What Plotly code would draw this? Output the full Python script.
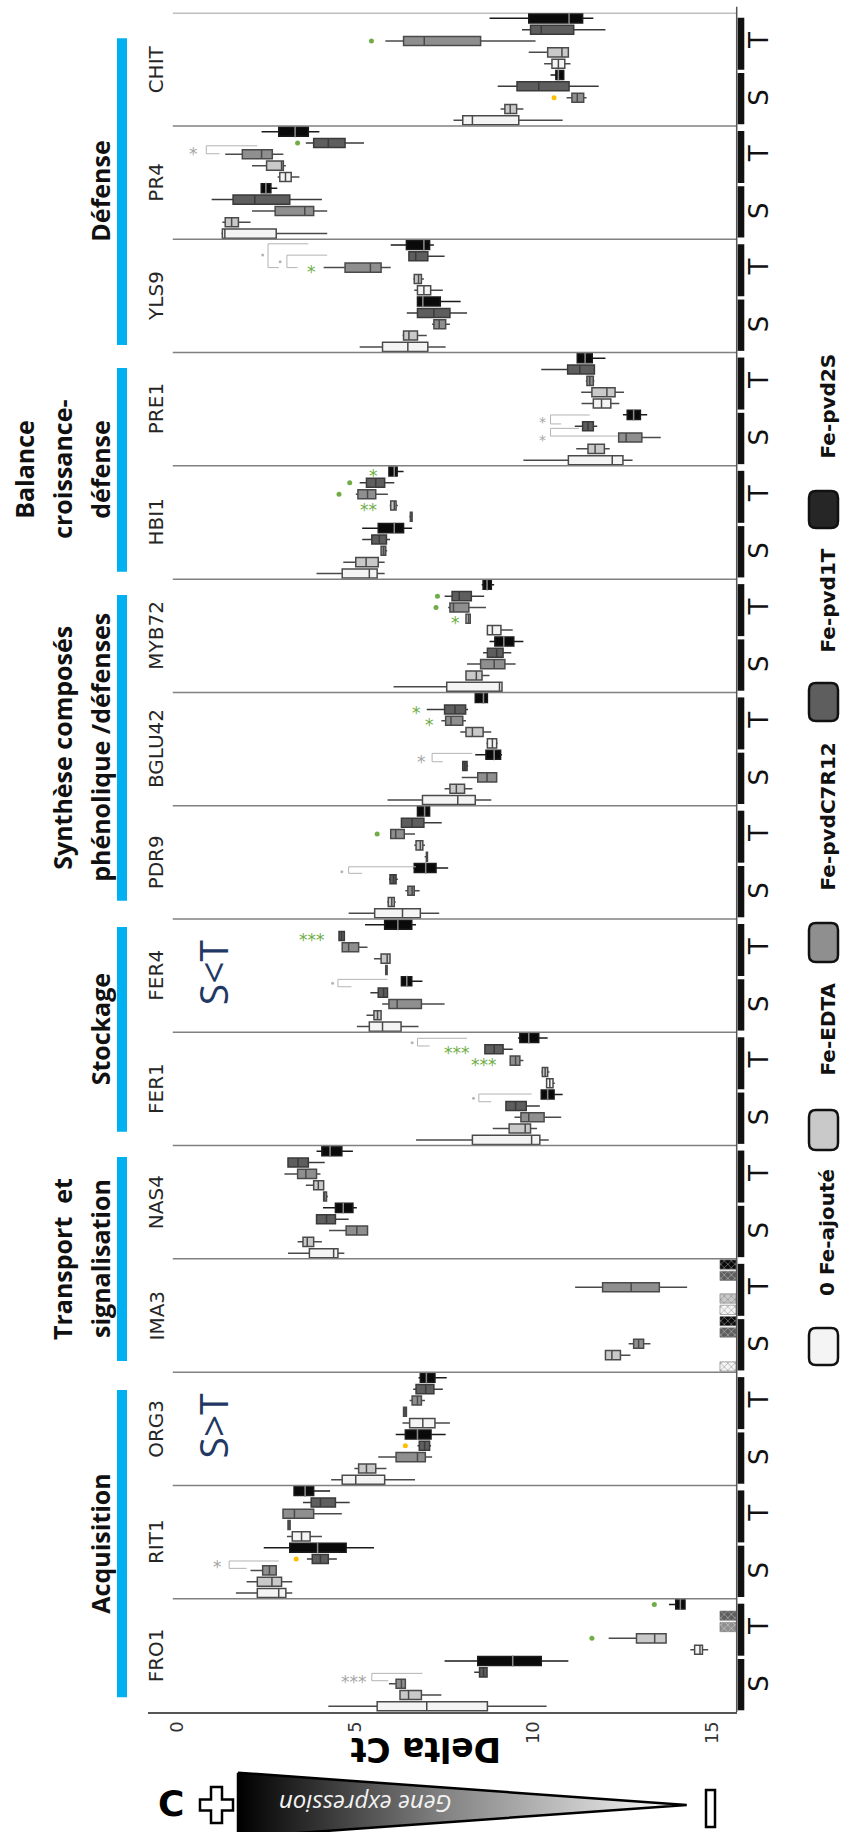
import plotly.graph_objects as go

W, H = 842, 1832

# ---------------- data ----------------
genes = ["FRO1", "RIT1", "ORG3", "IMA3", "NAS4", "FER1", "FER4", "PDR9",
         "BGLU42", "MYB72", "HBI1", "PRE1", "YLS9", "PR4", "CHIT"]
treatments = ["0 Fe-ajouté", "Fe-EDTA", "Fe-pvdC7R12", "Fe-pvd1T", "Fe-pvd2S"]
conditions = ["S", "T"]

# each gene: 10 boxes (S: 5 treatments, then T: 5 treatments)
# (lower whisker, q1, median, q3, upper whisker) in Delta Ct ; None = not detected
FRO1 = [(4.25, 5.62, 7.01, 8.71, 10.37), (6.26, 6.26, 6.5, 6.86, 7.42), (5.95, 6.15, 6.3, 6.41, 6.41),
        (8.34, 8.49, 8.6, 8.7, 8.7), (7.51, 8.44, 9.42, 10.22, 10.98),
        (14.4, 14.52, 14.67, 14.74, 14.9), (12.11, 12.89, 13.4, 13.72, 13.72), None, None,
        (13.8, 13.99, 14.12, 14.25, 14.25)]
RIT1 = [(1.66, 2.26, 2.86, 3.06, 3.24), (1.96, 2.26, 2.67, 2.94, 3.24), (2.07, 2.41, 2.6, 2.79, 2.79),
        (3.65, 3.8, 4.03, 4.25, 4.49), (2.44, 3.17, 3.95, 4.75, 5.53),
        (3.09, 3.24, 3.5, 3.74, 4.07), (3.1, 3.12, 3.15, 3.18, 3.2), (2.98, 2.98, 3.3, 3.84, 4.63),
        (3.54, 3.77, 4.03, 4.45, 4.85), (3.29, 3.29, 3.6, 3.84, 4.3)]
ORG3 = [(4.33, 4.64, 5.02, 5.83, 6.68), (4.98, 5.1, 5.32, 5.58, 5.88), (5.65, 6.15, 6.75, 6.97, 7.16),
        (6.75, 6.8, 6.95, 7.09, 7.13), (6.14, 6.41, 6.75, 7.13, 7.54),
        (6.33, 6.53, 6.9, 7.24, 7.66), (6.35, 6.36, 6.4, 6.44, 6.45), (6.53, 6.6, 6.75, 6.86, 6.96),
        (6.63, 6.71, 6.98, 7.21, 7.46), (6.78, 6.83, 7.0, 7.24, 7.57)]
IMA3 = [None, (12.02, 12.02, 12.2, 12.44, 12.72), (12.67, 12.81, 12.95, 13.09, 13.28), None, None,
        None, None, (11.17, 11.94, 12.74, 13.53, 14.31), None, None]
NAS4 = [(3.12, 3.72, 4.4, 4.52, 4.7), (3.39, 3.54, 3.66, 3.84, 4.07), (4.27, 4.75, 5.05, 5.35, 5.35),
        (3.92, 3.92, 4.2, 4.45, 4.82), (4.1, 4.45, 4.67, 4.94, 5.05),
        (4.1, 4.12, 4.15, 4.2, 4.24), (3.62, 3.84, 3.97, 4.12, 4.12), (3.02, 3.39, 3.62, 3.92, 4.03),
        (3.12, 3.12, 3.4, 3.69, 4.15), (3.92, 4.07, 4.3, 4.63, 4.94)]
FER1 = [(6.71, 8.29, 9.95, 10.18, 10.43), (8.86, 9.32, 9.77, 9.92, 10.1), (9.47, 9.65, 9.87, 10.3, 10.78),
        (9.23, 9.23, 9.5, 9.8, 10.18), (10.2, 10.22, 10.4, 10.58, 10.82),
        (10.35, 10.37, 10.46, 10.55, 10.6), (10.22, 10.25, 10.33, 10.4, 10.45), (9.33, 9.35, 9.5, 9.62, 9.72),
        (8.64, 8.64, 8.9, 9.15, 9.42), (9.57, 9.62, 9.87, 10.15, 10.4)]
FER4 = [(5.05, 5.4, 5.77, 6.29, 6.78), (5.32, 5.53, 5.63, 5.73, 5.75), (5.76, 5.95, 6.18, 6.86, 7.51),
        (5.43, 5.65, 5.8, 5.91, 5.91), (6.3, 6.3, 6.45, 6.59, 6.89),
        (5.85, 5.86, 5.88, 5.9, 5.92), (5.53, 5.73, 5.9, 5.98, 5.98), (4.64, 4.64, 4.82, 5.1, 5.35),
        (4.55, 4.55, 4.62, 4.7, 4.72), (5.28, 5.83, 6.2, 6.59, 6.71)]
PDR9 = [(4.82, 5.55, 6.33, 6.83, 7.36), (5.9, 5.93, 6.03, 6.1, 6.14), (6.41, 6.48, 6.6, 6.66, 6.81),
        (5.95, 5.98, 6.08, 6.15, 6.2), (6.63, 6.66, 6.98, 7.27, 7.61),
        (6.95, 7.0, 7.01, 7.03, 7.05), (6.66, 6.71, 6.83, 6.9, 6.96), (5.98, 6.0, 6.14, 6.38, 6.68),
        (6.3, 6.3, 6.6, 6.93, 7.43), (6.75, 6.75, 6.95, 7.09, 7.09)]
BGLU42 = [(5.91, 6.89, 7.88, 8.37, 8.82), (7.51, 7.66, 7.84, 8.07, 8.29), (7.99, 8.44, 8.7, 8.97, 8.97),
          (8.0, 8.02, 8.08, 8.14, 8.17), (8.37, 8.67, 8.9, 9.08, 9.12),
          (8.68, 8.71, 8.85, 8.97, 9.0), (7.95, 8.11, 8.29, 8.59, 8.82), (7.42, 7.54, 7.69, 8.02, 8.11),
          (7.01, 7.51, 7.8, 8.1, 8.17), (8.37, 8.37, 8.6, 8.71, 8.71)]
MYB72 = [(6.08, 7.57, 9.05, 9.12, 9.12), (8.11, 8.11, 8.4, 8.56, 8.77), (8.14, 8.52, 8.9, 9.2, 9.5),
         (8.59, 8.71, 8.97, 9.15, 9.38), (8.77, 8.92, 9.17, 9.45, 9.72),
         (8.71, 8.71, 8.85, 9.09, 9.42), (8.09, 8.11, 8.18, 8.23, 8.25), (7.61, 7.66, 7.76, 8.19, 8.67),
         (7.51, 7.72, 7.92, 8.26, 8.62), (8.55, 8.59, 8.7, 8.82, 8.9)]
HBI1 = [(3.92, 4.64, 5.4, 5.62, 5.83), (4.67, 5.02, 5.31, 5.65, 5.83), (5.71, 5.73, 5.8, 5.86, 5.9),
        (5.2, 5.47, 5.68, 5.88, 5.98), (5.2, 5.65, 6.1, 6.36, 6.6),
        (6.52, 6.55, 6.57, 6.6, 6.62), (5.97, 6.0, 6.1, 6.15, 6.2), (5.02, 5.08, 5.35, 5.58, 5.92),
        (5.13, 5.32, 5.58, 5.83, 6.1), (5.95, 5.95, 6.1, 6.18, 6.36)]
PRE1 = [(9.72, 10.98, 12.21, 12.51, 12.78), (11.2, 11.53, 11.73, 11.99, 12.14), (12.39, 12.39, 12.6, 13.04, 13.57),
        (11.16, 11.38, 11.53, 11.68, 11.79), (12.51, 12.63, 12.81, 13.0, 13.19),
        (11.35, 11.68, 11.91, 12.17, 12.41), (11.34, 11.64, 12.06, 12.29, 12.54), (11.47, 11.5, 11.58, 11.68, 11.71),
        (10.22, 10.96, 11.3, 11.71, 11.71), (11.23, 11.23, 11.45, 11.65, 12.02)]
YLS9 = [(5.13, 5.77, 6.48, 7.04, 7.54), (6.33, 6.36, 6.51, 6.75, 7.01), (7.16, 7.21, 7.36, 7.54, 7.66),
        (6.45, 6.75, 7.21, 7.66, 8.14), (6.75, 6.75, 6.9, 7.39, 7.96),
        (6.66, 6.75, 6.93, 7.12, 7.46), (6.63, 6.66, 6.78, 6.86, 6.93), (4.12, 4.72, 5.43, 5.73, 6.0),
        (6.51, 6.51, 6.7, 7.04, 7.51), (6.0, 6.44, 6.93, 7.09, 7.21)]
PR4 = [(1.25, 1.28, 1.35, 2.79, 4.22), (1.28, 1.36, 1.54, 1.73, 2.07), (2.11, 2.76, 3.59, 3.84, 4.22),
       (0.98, 1.58, 2.19, 3.17, 4.07), (2.37, 2.37, 2.5, 2.64, 2.82),
       (2.83, 2.89, 3.05, 3.21, 3.44), (2.11, 2.52, 2.94, 2.99, 3.06), (1.36, 1.84, 2.38, 2.68, 2.99),
       (3.62, 3.84, 4.25, 4.72, 5.25), (2.38, 2.86, 3.32, 3.69, 4.0)]
CHIT = [(7.76, 8.02, 8.29, 9.59, 10.82), (9.08, 9.2, 9.35, 9.53, 9.72), (10.93, 11.08, 11.23, 11.41, 11.49),
        (9.0, 9.54, 10.15, 11.0, 11.83), (10.48, 10.63, 10.7, 10.85, 10.85),
        (10.3, 10.52, 10.7, 10.88, 11.04), (9.87, 10.4, 10.8, 10.98, 11.0), (5.85, 6.36, 6.94, 8.52, 10.06),
        (9.68, 9.92, 10.22, 11.13, 12.02), (8.77, 9.87, 11.0, 11.38, 11.68)]

gene_data = {"FRO1": FRO1, "RIT1": RIT1, "ORG3": ORG3, "IMA3": IMA3, "NAS4": NAS4, "FER1": FER1,
             "FER4": FER4, "PDR9": PDR9, "BGLU42": BGLU42, "MYB72": MYB72, "HBI1": HBI1,
             "PRE1": PRE1, "YLS9": YLS9, "PR4": PR4, "CHIT": CHIT}

# coloured marks (gene, position inside the gene block, Delta Ct)
green_dots = [("CHIT", 7.5, 5.46), ("PR4", 8.5, 3.39), ("HBI1", 7.5, 4.55), ("HBI1", 8.5, 4.85),
              ("MYB72", 7.5, 7.27), ("MYB72", 8.5, 7.31), ("PDR9", 7.5, 5.62),
              ("FRO1", 6.5, 11.64), ("FRO1", 9.5, 13.39)]
orange_dots = [("CHIT", 2.5, 10.58), ("RIT1", 3.5, 3.35), ("ORG3", 3.5, 6.41)]
gray_dots = [("YLS9", 8.61, 2.41), ("YLS9", 8.02, 2.9), ("PDR9", 4.17, 4.63), ("FER4", 4.32, 4.37),
             ("FER1", 9.08, 6.6), ("FER1", 4.17, 8.32)]
green_stars = [("YLS9", 7.5, 3.77, "*"), ("HBI1", 9.5, 5.53, "*"), ("HBI1", 6.5, 5.39, "**"),
               ("MYB72", 6.5, 7.81, "*"), ("BGLU42", 8.5, 6.71, "*"), ("BGLU42", 7.5, 7.09, "*"),
               ("FER4", 8.5, 3.78, "***"), ("FER1", 8.5, 7.85, "***"), ("FER1", 7.5, 8.61, "***")]
gray_stars = [("PR4", 7.9, 0.48, "*"), ("PRE1", 3.47, 10.25, "*<br>*"),
              ("BGLU42", 4.18, 6.86, "*"), ("RIT1", 3.18, 1.15, "*"), ("FRO1", 3.0, 4.97, "***")]
# brackets: gene, x left, y top, y bottom, x end of top arm, x end of bottom arm
brackets = [("PR4", 0.83, 8.25, 7.55, 2.26, 1.2), ("YLS9", 3.09, 8.6, 7.5, 4.22, 3.39),
            ("YLS9", 2.56, 9.6, 7.5, 3.69, 2.86), ("PRE1", 10.48, 4.49, 3.7, 11.58, 10.78),
            ("PRE1", 10.48, 3.31, 2.63, 11.28, 12.36), ("BGLU42", 7.16, 4.62, 3.88, 8.29, 7.46),
            ("PDR9", 4.82, 4.61, 4.03, 6.71, 5.2), ("FER4", 4.52, 4.67, 4.02, 5.91, 4.9),
            ("FER1", 6.75, 9.47, 8.79, 8.14, 7.09), ("FER1", 8.47, 4.55, 3.87, 9.95, 8.82),
            ("RIT1", 1.47, 3.33, 2.68, 2.86, 1.96), ("FRO1", 5.47, 3.41, 2.76, 6.89, 5.93)]

groups = [(["Défense"], 38.3, 345.0), (["Balance", "croissance-", "défense"], 368.0, 571.7),
          (["Synthèse composés", "phénolique /défenses"], 595.0, 900.7), (["Stockage"], 927.0, 1131.7),
          (["Transport  et", "signalisation"], 1157.0, 1361.0), (["Acquisition"], 1390.0, 1697.3)]
trend_labels = [("S>T", "ORG3"), ("S<T", "FER4")]
x_ticks = [0, 5, 10, 15]

# ---------------- style ----------------
fills = ["#f4f4f4", "#c9c9c9", "#8f8f8f", "#5e5e5e", "#0a0a0a"]
edges = ["#4a4a4a", "#4a4a4a", "#4a4a4a", "#3a3a3a", "#1a1a1a"]
GREEN, ORANGE, GRAYTXT = "#70ad47", "#ffc000", "#a6a6a6"

# pixel geometry
X0PX, XUNIT = 176.7, 35.67          # pixel of Delta Ct = 0, pixels per unit
YBOT, YTOP = 1712.0, 12.7           # pixel rows of plot bottom / top
LEFTPX, RIGHTPX = 148.0, 736.7
NPOS = 150.0
YU = (YBOT - YTOP) / NPOS


def ypx(d):
    return YBOT - d * YU


gidx = {g: i for i, g in enumerate(genes)}

fig = go.Figure()

# ---------------- boxes ----------------
for ti in range(len(treatments)):
    ys, lf, q1, md, q3, uf = [], [], [], [], [], []
    na_y = []
    for gi, g in enumerate(genes):
        for ci in range(len(conditions)):
            slot = ci * 5 + ti
            v = gene_data[g][slot]
            pos = gi * 10 + slot + 0.5
            if v is None:
                na_y.append(pos)
                continue
            ys.append(pos)
            lf.append(v[0]); q1.append(v[1]); md.append(v[2]); q3.append(v[3]); uf.append(v[4])
    fig.add_trace(go.Box(y=ys, q1=q1, median=md, q3=q3, lowerfence=lf, upperfence=uf,
                         orientation="h", width=0.8, fillcolor=fills[ti],
                         line=dict(color=edges[ti], width=1.5), whiskerwidth=0,
                         boxpoints=False, hoverinfo="skip", name=treatments[ti],
                         xaxis="x", yaxis="y"))
    if ti == 4:
        fig.add_trace(go.Scatter(x=md, y=ys, mode="markers", hoverinfo="skip",
                                 marker=dict(symbol="line-ns", size=8,
                                             line=dict(color="#8a8a8a", width=1.5)),
                                 xaxis="x", yaxis="y"))
    if na_y:
        fig.add_trace(go.Bar(y=na_y, x=[0.45] * len(na_y), base=[15.23] * len(na_y),
                             orientation="h", width=0.82, hoverinfo="skip",
                             marker=dict(color=fills[ti], line=dict(color="#777", width=0.6),
                                         pattern=dict(shape="x", size=5, solidity=0.25,
                                                      fgcolor="#ffffff" if ti >= 2 else "#555555")),
                             xaxis="x", yaxis="y"))


def dot_trace(lst, color, size):
    xs = [x for (_, _, x) in lst]
    ys = [gidx[g] * 10 + p for (g, p, _) in lst]
    return go.Scatter(x=xs, y=ys, mode="markers", hoverinfo="skip",
                      marker=dict(color=color, size=size), xaxis="x", yaxis="y")


fig.add_trace(dot_trace(green_dots, GREEN, 5))
fig.add_trace(dot_trace(orange_dots, ORANGE, 5))
fig.add_trace(dot_trace(gray_dots, "#b5b5b5", 3))

# gradient triangle (pixel axes)
fig.add_trace(go.Scatter(x=[238, 686.7, 238, 238], y=[1772.7, 1805, 1837.3, 1772.7],
                         mode="lines", fill="toself", hoverinfo="skip",
                         fillgradient=dict(type="horizontal",
                                           colorscale=[[0, "#000000"], [0.45, "#808080"], [1, "#ffffff"]]),
                         line=dict(color="black", width=2.5), xaxis="x2", yaxis="y2"))

shapes = []
ann = []

# gene separators
for k in range(1, len(genes) + 1):
    shapes.append(dict(type="line", xref="x", yref="y", x0=-0.11, x1=15.69, y0=k * 10, y1=k * 10,
                       line=dict(color="#808080", width=1.5)))
# right border
shapes.append(dict(type="line", xref="x2", yref="y2", x0=RIGHTPX, x1=RIGHTPX, y0=6.7, y1=YBOT,
                   line=dict(color="#555555", width=1.5)))

# S / T bars and labels
for gi in range(len(genes)):
    for ci, c in enumerate(conditions):
        y0 = gi * 10 + ci * 5 + (0.15 if ci == 0 else -0.03)
        y1 = gi * 10 + ci * 5 + (4.68 if ci == 0 else 4.56)
        shapes.append(dict(type="rect", xref="x2", yref="y", x0=737.7, x1=744.3, y0=y0, y1=y1,
                           line=dict(width=0), fillcolor="#111111"))
        ann.append(dict(xref="x2", yref="y2", x=759, y=ypx(gi * 10 + ci * 5 + 2.5), text=c,
                        showarrow=False, textangle=-90, xanchor="center", yanchor="middle",
                        font=dict(family="DejaVu Sans", size=26, color="#111111")))
    ann.append(dict(xref="x2", yref="y2", x=156, y=ypx(gi * 10 + 5), text=genes[gi],
                    showarrow=False, textangle=-90, xanchor="center", yanchor="middle",
                    font=dict(family="DejaVu Sans", size=20, color="#262626")))

# brackets
for (g, xl, yt, yb, xte, xbe) in brackets:
    b = gidx[g] * 10
    for (xa, ya, xb, yb2) in [(xl, b + yt, xte, b + yt), (xl, b + yt, xl, b + yb), (xl, b + yb, xbe, b + yb)]:
        shapes.append(dict(type="line", xref="x", yref="y", x0=xa, y0=ya, x1=xb, y1=yb2,
                           line=dict(color="#b3b3b3", width=1)))

# stars
for lst, col in [(green_stars, GREEN), (gray_stars, GRAYTXT)]:
    for (g, p, x, t) in lst:
        small = "<br>" in t
        ann.append(dict(xref="x", yref="y", x=x, y=gidx[g] * 10 + p, text=t, showarrow=False,
                        xanchor="center", yanchor="middle", yshift=-4,
                        font=dict(family="DejaVu Sans", size=14 if small else 17, color=col)))

# group labels and blue bars
for lines, ya, yb in groups:
    shapes.append(dict(type="rect", xref="x2", yref="y2", x0=117, x1=127, y0=ya, y1=yb,
                       line=dict(width=0), fillcolor="#00b0f0"))
    n = len(lines)
    for li, t in enumerate(lines):
        xc = 100 - (n - 1 - li) * 38
        ann.append(dict(xref="x2", yref="y2", x=xc, y=(ya + yb) / 2, text=t, showarrow=False,
                        textangle=-90, xanchor="center", yanchor="middle",
                        font=dict(family="Open Sans", size=25, color="#111111", weight="bold")))

for t, g in trend_labels:
    ann.append(dict(xref="x2", yref="y2", x=212, y=ypx(gidx[g] * 10 + 5.3), text=t, showarrow=False,
                    textangle=-90, xanchor="center", yanchor="middle",
                    font=dict(family="Open Sans", size=39, color="#1f3864")))

# legend (drawn rotated)
def rrect(x0, y0, x1, y1, r):
    return (f"M {x0+r} {y0} L {x1-r} {y0} Q {x1} {y0} {x1} {y0+r} L {x1} {y1-r} Q {x1} {y1} {x1-r} {y1} "
            f"L {x0+r} {y1} Q {x0} {y1} {x0} {y1-r} L {x0} {y0+r} Q {x0} {y0} {x0+r} {y0} Z")


leg_box = [(1328, 1365), (1110, 1150), (923, 962), (683, 721), (491, 528)]
leg_txt = [1233, 1029.5, 816.5, 600.5, 406.5]
for ti, t in enumerate(treatments):
    ya, yb = leg_box[ti]
    shapes.append(dict(type="path", xref="x2", yref="y2", path=rrect(809, ya, 838, yb, 7),
                       fillcolor=fills[ti] if ti < 4 else "#262626", line=dict(color="#111111", width=2.5)))
    ann.append(dict(xref="x2", yref="y2", x=827, y=leg_txt[ti], text=t, showarrow=False,
                    textangle=-90, xanchor="center", yanchor="middle",
                    font=dict(family="DejaVu Sans", size=20, color="#111111", weight="bold")))

# axis title and expression key
ann.append(dict(xref="x2", yref="y2", x=426, y=1750, text="Delta Ct", showarrow=False, textangle=180,
                xanchor="center", yanchor="middle",
                font=dict(family="DejaVu Sans", size=33, color="#000000", weight="bold")))
ann.append(dict(xref="x2", yref="y2", x=366, y=1805, text="<i>Gene expression</i>", showarrow=False,
                textangle=180, xanchor="center", yanchor="middle",
                font=dict(family="Open Sans", size=24, color="#f2f2f2")))
ann.append(dict(xref="x2", yref="y2", x=171, y=1803, text="C", showarrow=False,
                xanchor="center", yanchor="middle",
                font=dict(family="DejaVu Sans", size=36, color="#000000", weight="bold")))
shapes.append(dict(type="path", xref="x2", yref="y2",
                   path="M 211 1787 L 222 1787 L 222 1799.5 L 233 1799.5 L 233 1810.5 L 222 1810.5 "
                        "L 222 1823 L 211 1823 L 211 1810.5 L 200 1810.5 L 200 1799.5 L 211 1799.5 Z",
                   fillcolor="white", line=dict(color="black", width=2.5)))
shapes.append(dict(type="rect", xref="x2", yref="y2", x0=706, x1=715, y0=1790, y1=1827,
                   fillcolor="white", line=dict(color="black", width=2.5)))

xr0 = (LEFTPX - X0PX) / XUNIT
xr1 = (RIGHTPX - X0PX) / XUNIT
fig.update_layout(
    width=W, height=H, autosize=False,
    margin=dict(l=0, r=0, t=0, b=0, pad=0),
    paper_bgcolor="white", plot_bgcolor="rgba(0,0,0,0)",
    showlegend=False, barmode="overlay", boxmode="overlay",
    font=dict(family="DejaVu Sans", color="#222222"),
    xaxis=dict(domain=[LEFTPX / W, RIGHTPX / W], range=[xr0, xr1], anchor="y",
               showgrid=False, zeroline=False, showline=True, linecolor="#555555", linewidth=2,
               tickmode="array", tickvals=x_ticks, ticktext=[str(v) for v in x_ticks],
               tickangle=-90, ticks="", tickfont=dict(family="DejaVu Sans", size=18, color="#333333"),
               fixedrange=True),
    yaxis=dict(domain=[1 - YBOT / H, 1 - YTOP / H], range=[0, NPOS], anchor="x",
               visible=False, fixedrange=True),
    xaxis2=dict(domain=[0, 1], range=[0, W], anchor="y2", visible=False, fixedrange=True),
    yaxis2=dict(domain=[0, 1], range=[H, 0], anchor="x2", visible=False, fixedrange=True),
    shapes=shapes, annotations=ann,
)

fig.write_html("out.html", config={"displayModeBar": False},
               post_script="document.body.style.margin='0';document.body.style.overflow='hidden';")
